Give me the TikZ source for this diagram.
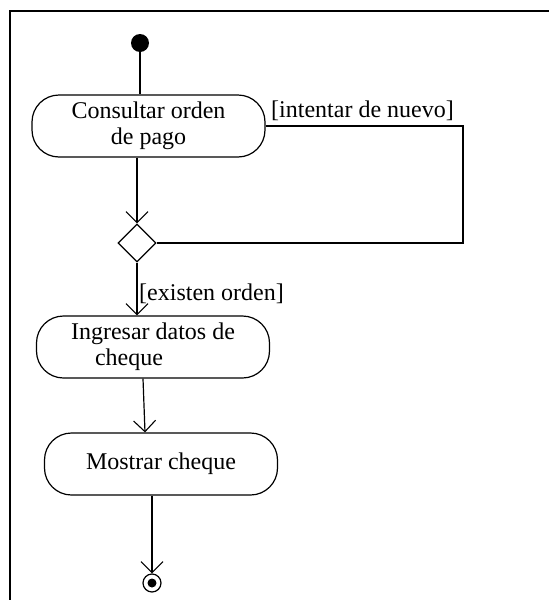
\documentclass[tikz,border=0pt]{standalone}
\usepackage{fontspec}
\setmainfont{Liberation Serif}
\usetikzlibrary{arrows.meta,shapes.geometric}
\begin{document}
\begin{tikzpicture}[x=1pt,y=-1pt,
  flow/.style={line width=1.2pt},
  arr/.style={flow,-{Straight Barb[length=11pt,width=22pt,line width=1.1pt]}},
  activity/.style={draw,line width=1.2pt,rounded corners=27pt,minimum width=233pt,
    minimum height=62pt,inner sep=0pt,font=\fontsize{24}{26}\selectfont},
  decision/.style={draw,line width=1.2pt,diamond,minimum width=38pt,minimum height=38pt,inner sep=0pt},
  guard/.style={anchor=west,inner sep=0pt,font=\fontsize{24}{26}\selectfont}]
  \useasboundingbox (0,0) rectangle (549,600);
  % frame
  \draw[line width=1.6pt] (10,600) -- (10,11) -- (549,11);
  % nodes
  \node[circle,fill=black,minimum size=18pt,inner sep=0pt] (start) at (140,43) {};
  \node[activity,align=center] (act1) at (148.5,126) {Consultar orden\\de pago};
  \node[decision] (dia) at (137,243) {};
  \node[activity,align=left] (act2) at (153,347) {Ingresar datos de\\\hspace*{24pt}cheque};
  \node[activity] (act3) at (161,464) {Mostrar cheque};
  \node[circle,draw,line width=1.2pt,minimum size=18pt,inner sep=0pt] (final) at (152,583) {};
  \fill (final.center) circle (4.5pt);
  \coordinate (loopcorner) at (463,243);
  % connectors
  \draw[flow] (start) -- (start |- act1.north);
  \draw[arr] (dia.north |- act1.south) -- (dia.north);
  \draw[flow] (act1.east) -| (loopcorner) -- (dia.east);
  \draw[arr] (dia.south) -- (dia.south |- act2.north);
  \draw[arr] ([xshift=-10pt]act2.south) -- ([xshift=-16pt]act3.north);
  \draw[arr] ([xshift=-9pt]act3.south) -- (final.north);
  % guards
  \node[guard] (g1) at (271,111) {[intentar de nuevo]};
  \node[guard] (g2) at (139,294) {[existen orden]};
\end{tikzpicture}
\end{document}
